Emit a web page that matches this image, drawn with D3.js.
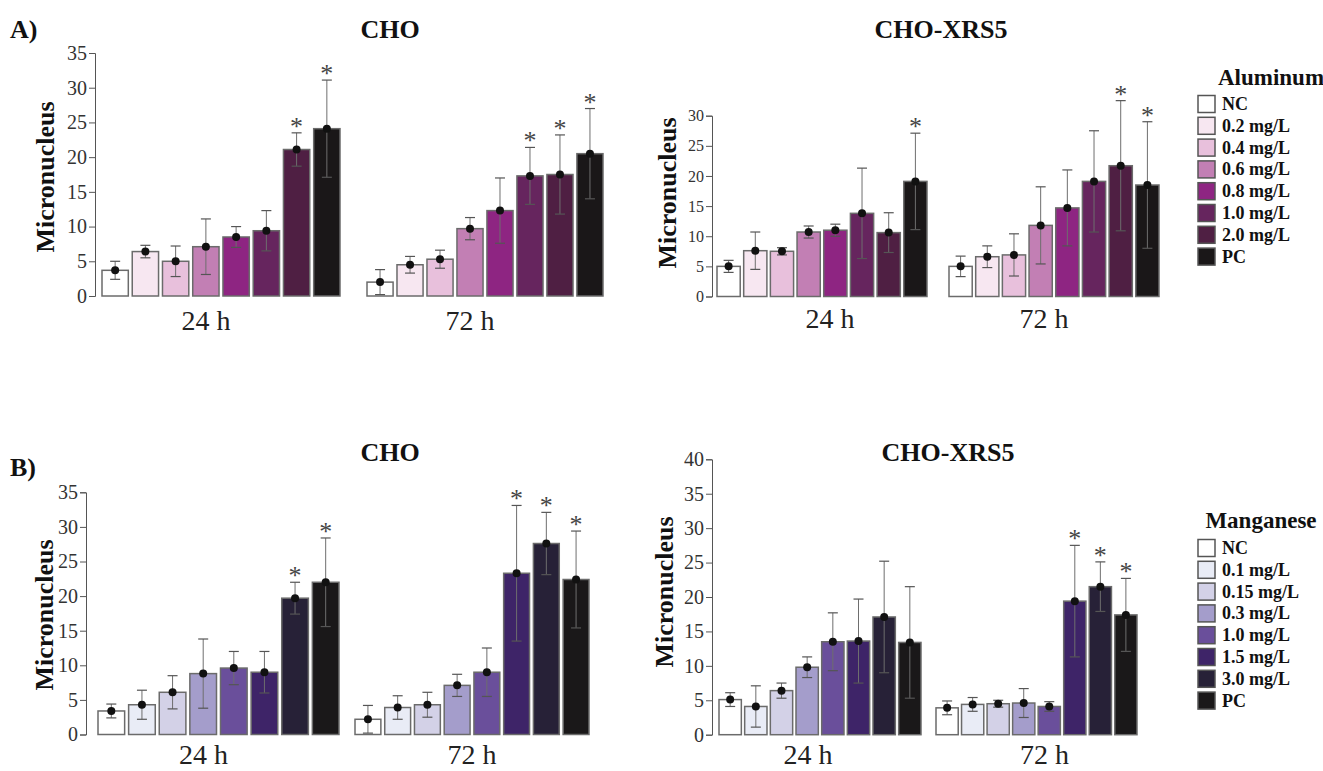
<!DOCTYPE html>
<html>
<head>
<meta charset="utf-8">
<script src="https://cdn.jsdelivr.net/npm/d3@7"></script>
<style>
  body { margin: 0; background: #fff; }
  svg text { font-family: "Liberation Serif", "DejaVu Serif", serif; }
</style>
</head>
<body>
<svg id="chart" width="1323" height="771"></svg>
<script>
// concentrations (legend entries, one bar each)
const alConc = ["NC", "0.2 mg/L", "0.4 mg/L", "0.6 mg/L", "0.8 mg/L", "1.0 mg/L", "2.0 mg/L", "PC"];
const mnConc = ["NC", "0.1 mg/L", "0.15 mg/L", "0.3 mg/L", "1.0 mg/L", "1.5 mg/L", "3.0 mg/L", "PC"];
const alColors = ["#ffffff", "#f7e7f1", "#e8c0dc", "#c27fb4", "#8e2582", "#66255e", "#4f1f43", "#1a1718"];
const mnColors = ["#ffffff", "#e9ecf6", "#d3d1e7", "#a49dcb", "#6a4f9b", "#3e2468", "#272137", "#1a1819"];
const times = ["24 h", "72 h"];

// Aluminum, CHO
const alCho24Mean = [3.7, 6.4, 5.0, 7.1, 8.5, 9.4, 21.1, 24.1];
const alCho24Sd   = [1.3, 0.9, 2.2, 4.0, 1.5, 2.9, 2.4, 7.0];
const alCho24Sig  = [0, 0, 0, 0, 0, 0, 1, 1];
const alCho72Mean = [2.0, 4.5, 5.3, 9.7, 12.3, 17.3, 17.5, 20.5];
const alCho72Sd   = [1.8, 1.2, 1.3, 1.6, 4.7, 4.1, 5.7, 6.5];
const alCho72Sig  = [0, 0, 0, 0, 0, 1, 1, 1];
// Aluminum, CHO-XRS5
const alXrs24Mean = [5.0, 7.6, 7.5, 10.7, 11.0, 13.8, 10.6, 19.1];
const alXrs24Sd   = [1.0, 3.1, 0.6, 1.0, 1.0, 7.5, 3.3, 8.0];
const alXrs24Sig  = [0, 0, 0, 0, 0, 0, 0, 1];
const alXrs72Mean = [5.0, 6.6, 6.9, 11.8, 14.7, 19.1, 21.7, 18.5];
const alXrs72Sd   = [1.7, 1.8, 3.5, 6.4, 6.3, 8.4, 10.8, 10.5];
const alXrs72Sig  = [0, 0, 0, 0, 0, 0, 1, 1];
// Manganese, CHO
const mnCho24Mean = [3.4, 4.3, 6.1, 8.8, 9.6, 9.0, 19.7, 22.0];
const mnCho24Sd   = [1.0, 2.1, 2.4, 5.0, 2.4, 3.0, 2.3, 6.4];
const mnCho24Sig  = [0, 0, 0, 0, 0, 0, 1, 1];
const mnCho72Mean = [2.2, 3.9, 4.3, 7.1, 9.0, 23.3, 27.6, 22.4];
const mnCho72Sd   = [2.0, 1.7, 1.8, 1.6, 3.5, 9.8, 4.5, 7.0];
const mnCho72Sig  = [0, 0, 0, 0, 0, 1, 1, 1];
// Manganese, CHO-XRS5
const mnXrs24Mean = [5.1, 4.1, 6.4, 9.8, 13.5, 13.6, 17.1, 13.4];
const mnXrs24Sd   = [1.0, 3.0, 1.1, 1.5, 4.2, 6.1, 8.1, 8.1];
const mnXrs24Sig  = [0, 0, 0, 0, 0, 0, 0, 0];
const mnXrs72Mean = [3.9, 4.4, 4.5, 4.6, 4.1, 19.4, 21.5, 17.4];
const mnXrs72Sd   = [1.0, 1.0, 0.5, 2.1, 0.7, 8.1, 3.6, 5.3];
const mnXrs72Sig  = [0, 0, 0, 0, 0, 1, 1, 1];

// layout of each panel (pixels only)
const panels = [
  { conc: alConc, colors: alColors, yMax: 35, axisX: 95, y0: 296, yTop: 53, tickFont: 20,
    groups: [[102, 340], [367, 603]], labelDx: [-15, -15], labelY: 330,
    yLab: [54, 177], title: "CHO", titleXY: [390, 38],
    series: [[alCho24Mean, alCho24Sd, alCho24Sig], [alCho72Mean, alCho72Sd, alCho72Sig]] },
  { conc: alConc, colors: alColors, yMax: 30, axisX: 712, y0: 296.5, yTop: 115.7, tickFont: 16,
    groups: [[717, 927], [949, 1159]], labelDx: [8, -10], labelY: 328,
    yLab: [676, 193], title: "CHO-XRS5", titleXY: [941, 38],
    series: [[alXrs24Mean, alXrs24Sd, alXrs24Sig], [alXrs72Mean, alXrs72Sd, alXrs72Sig]] },
  { conc: mnConc, colors: mnColors, yMax: 35, axisX: 86, y0: 734.5, yTop: 492.3, tickFont: 20,
    groups: [[98, 339], [355, 589]], labelDx: [-15, 0], labelY: 764,
    yLab: [53, 615], title: "CHO", titleXY: [390, 461],
    series: [[mnCho24Mean, mnCho24Sd, mnCho24Sig], [mnCho72Mean, mnCho72Sd, mnCho72Sig]] },
  { conc: mnConc, colors: mnColors, yMax: 40, axisX: 712, y0: 734.7, yTop: 459.3, tickFont: 20,
    groups: [[719, 921], [936, 1137]], labelDx: [-12, 8], labelY: 764,
    yLab: [673, 592], title: "CHO-XRS5", titleXY: [948, 461],
    series: [[mnXrs24Mean, mnXrs24Sd, mnXrs24Sig], [mnXrs72Mean, mnXrs72Sd, mnXrs72Sig]] }
];

const svg = d3.select("#chart");

svg.append("text").attr("x", 10).attr("y", 38)
   .attr("font-size", 26).attr("font-weight", "bold").attr("fill", "#111").text("A)");
svg.append("text").attr("x", 10).attr("y", 476)
   .attr("font-size", 26).attr("font-weight", "bold").attr("fill", "#111").text("B)");

panels.forEach(p => {
  const g = svg.append("g");
  const y = d3.scaleLinear().domain([0, p.yMax]).range([p.y0, p.yTop]);

  const axis = g.append("g")
    .attr("transform", `translate(${p.axisX},0)`)
    .call(d3.axisLeft(y).tickValues(d3.range(0, p.yMax + 1, 5)).tickSize(6).tickSizeOuter(6).tickPadding(2));
  axis.select(".domain").attr("stroke", "#555");
  axis.selectAll(".tick line").attr("stroke", "#555");
  axis.selectAll(".tick text")
      .attr("font-family", "Liberation Serif").attr("font-size", p.tickFont).attr("fill", "#333");

  g.append("text")
   .attr("transform", `translate(${p.yLab[0]},${p.yLab[1]}) rotate(-90)`)
   .attr("text-anchor", "middle").attr("font-size", 26).attr("font-weight", "bold")
   .attr("fill", "#111").text("Micronucleus");

  g.append("text").attr("x", p.titleXY[0]).attr("y", p.titleXY[1])
   .attr("text-anchor", "middle").attr("font-size", 26).attr("font-weight", "bold")
   .attr("fill", "#111").text(p.title);

  p.series.forEach((s, gi) => {
    const [mean, sd, sig] = s;
    const x = d3.scaleBand().domain(p.conc).range(p.groups[gi]).paddingInner(0.13).paddingOuter(0);
    const rows = p.conc.map((c, i) => ({ c, i, m: mean[i], sd: sd[i], sig: sig[i] }));
    const gg = g.append("g");

    gg.selectAll("rect").data(rows).enter().append("rect")
      .attr("x", d => x(d.c)).attr("y", d => y(d.m))
      .attr("width", x.bandwidth()).attr("height", d => y(0) - y(d.m))
      .attr("fill", d => p.colors[d.i]).attr("stroke", "#6b6b6b").attr("stroke-width", 1.5);

    const cx = d => x(d.c) + x.bandwidth() / 2;
    gg.selectAll(".eb").data(rows).enter().append("line").attr("class", "eb")
      .attr("x1", cx).attr("x2", cx)
      .attr("y1", d => y(Math.max(0, d.m - d.sd))).attr("y2", d => y(d.m + d.sd))
      .attr("stroke", "#6e6e6e").attr("stroke-width", 1);
    gg.selectAll(".cap-hi").data(rows).enter().append("line").attr("class", "cap-hi")
      .attr("x1", d => cx(d) - 5).attr("x2", d => cx(d) + 5)
      .attr("y1", d => y(d.m + d.sd)).attr("y2", d => y(d.m + d.sd))
      .attr("stroke", "#555").attr("stroke-width", 1.2);
    gg.selectAll(".cap-lo").data(rows).enter().append("line").attr("class", "cap-lo")
      .attr("x1", d => cx(d) - 5).attr("x2", d => cx(d) + 5)
      .attr("y1", d => y(Math.max(0, d.m - d.sd))).attr("y2", d => y(Math.max(0, d.m - d.sd)))
      .attr("stroke", "#555").attr("stroke-width", 1.2);
    gg.selectAll("circle").data(rows).enter().append("circle")
      .attr("cx", cx).attr("cy", d => y(d.m)).attr("r", 4).attr("fill", "#111");

    gg.selectAll(".star").data(rows.filter(d => d.sig)).enter().append("text").attr("class", "star")
      .attr("x", cx).attr("y", d => y(d.m + d.sd) + 2)
      .attr("text-anchor", "middle").attr("font-size", 26).attr("fill", "#444").text("*");

    g.append("text")
     .attr("x", (p.groups[gi][0] + p.groups[gi][1]) / 2 + p.labelDx[gi]).attr("y", p.labelY)
     .attr("text-anchor", "middle").attr("font-size", 28).attr("fill", "#222").text(times[gi]);
  });
});

// legends
function legend(title, conc, colors, tx, ty, y0, fs) {
  const lg = svg.append("g");
  lg.append("text").attr("x", tx).attr("y", ty).attr("text-anchor", "middle")
    .attr("font-size", fs).attr("font-weight", "bold").attr("fill", "#111").text(title);
  const ly = d3.scalePoint().domain(conc).range([y0, y0 + 21.8 * (conc.length - 1)]);
  const it = lg.selectAll("g.item").data(conc).enter().append("g").attr("class", "item")
    .attr("transform", d => `translate(1198,${ly(d)})`);
  it.append("rect").attr("x", 0).attr("y", -8.5).attr("width", 17).attr("height", 17)
    .attr("fill", (d, i) => colors[i]).attr("stroke", "#555").attr("stroke-width", 1.5);
  it.append("text").attr("x", 24).attr("y", 6).attr("font-size", 18).attr("font-weight", "bold")
    .attr("fill", "#111").text(d => d);
}
legend("Aluminum", alConc, alColors, 1271, 85, 104, 23);
legend("Manganese", mnConc, mnColors, 1261, 528, 548, 23);
</script>
</body>
</html>
